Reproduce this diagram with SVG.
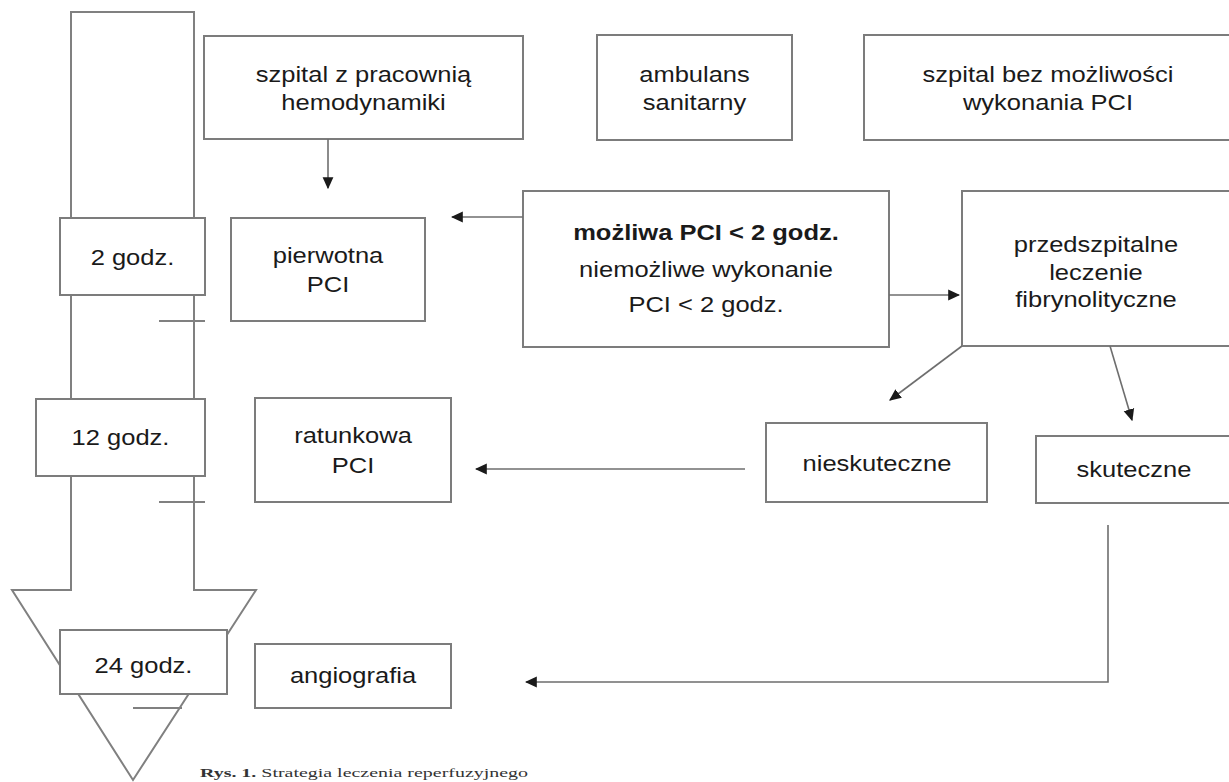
<svg xmlns="http://www.w3.org/2000/svg" width="1229" height="782" viewBox="0 0 1229 782">
<style>
  .box { fill: #ffffff; stroke: #7c7c7c; stroke-width: 2; }
  .shape { fill: none; stroke: #808080; stroke-width: 2; }
  .con { fill: none; stroke: #6e6e6e; stroke-width: 1.6; }
  .t { font-family: "Liberation Sans", Arial, sans-serif; font-size: 22px; fill: #1a1a1a; text-anchor: middle; }
  .b { font-weight: bold; }
  .cap { font-family: "Liberation Serif", "Times New Roman", serif; font-size: 13px; fill: #333; }
</style>
<defs>
  <marker id="ah" viewBox="0 0 10 10" refX="9" refY="5" markerWidth="12" markerHeight="12" markerUnits="userSpaceOnUse" orient="auto">
    <path d="M0,0.5 L10,5 L0,9.5 Z" fill="#1a1a1a"/>
  </marker>
</defs>
<rect width="1229" height="782" fill="#ffffff"/>

<g id="timeline">
  <path class="shape" d="M71,590 L71,12 L194,12 L194,590 L256,590 L133,780 L12,590 Z" fill="#fff"/>
  <line class="shape" x1="159" y1="321" x2="205" y2="321"/>
  <line class="shape" x1="159" y1="502" x2="205" y2="502"/>
</g>

<g id="n-2h">
  <rect class="box" x="60" y="218" width="145" height="77"/>
  <text class="t" transform="translate(132.5,265) scale(1.16,1)">2 godz.</text>
</g>
<g id="n-12h">
  <rect class="box" x="36" y="399" width="169" height="77"/>
  <text class="t" transform="translate(120.5,445) scale(1.16,1)">12 godz.</text>
</g>
<g id="n-24h">
  <rect class="box" x="60" y="630" width="167" height="64"/>
  <text class="t" transform="translate(143.5,673) scale(1.16,1)">24 godz.</text>
  <line class="shape" x1="133" y1="708" x2="182" y2="708"/>
</g>

<g id="n-szpital-z">
  <rect class="box" x="204" y="36" width="319" height="103"/>
  <text class="t" transform="translate(363.5,0) scale(1.16,1)"><tspan x="0" y="82">szpital z pracownią</tspan><tspan x="0" y="110">hemodynamiki</tspan></text>
</g>
<g id="n-ambulans">
  <rect class="box" x="597" y="35" width="195" height="105"/>
  <text class="t" transform="translate(694.5,0) scale(1.16,1)"><tspan x="0" y="82">ambulans</tspan><tspan x="0" y="110">sanitarny</tspan></text>
</g>
<g id="n-szpital-bez">
  <rect class="box" x="864" y="35" width="370" height="105"/>
  <text class="t" transform="translate(1048,0) scale(1.16,1)"><tspan x="0" y="82">szpital bez możliwości</tspan><tspan x="0" y="110">wykonania PCI</tspan></text>
</g>

<g id="n-pierwotna">
  <rect class="box" x="231" y="218" width="194" height="103"/>
  <text class="t" transform="translate(328,0) scale(1.16,1)"><tspan x="0" y="263">pierwotna</tspan><tspan x="0" y="292">PCI</tspan></text>
</g>
<g id="n-mozliwa">
  <rect class="box" x="523" y="191" width="366" height="156"/>
  <text class="t" transform="translate(706,0) scale(1.16,1)"><tspan class="b" x="0" y="240">możliwa PCI &lt; 2 godz.</tspan><tspan x="0" y="277">niemożliwe wykonanie</tspan><tspan x="0" y="312">PCI &lt; 2 godz.</tspan></text>
</g>
<g id="n-przedszpitalne">
  <rect class="box" x="962" y="191" width="272" height="155"/>
  <text class="t" transform="translate(1096,0) scale(1.16,1)"><tspan x="0" y="252">przedszpitalne</tspan><tspan x="0" y="280">leczenie</tspan><tspan x="0" y="307">fibrynolityczne</tspan></text>
</g>

<g id="n-ratunkowa">
  <rect class="box" x="255" y="398" width="196" height="104"/>
  <text class="t" transform="translate(353,0) scale(1.16,1)"><tspan x="0" y="443">ratunkowa</tspan><tspan x="0" y="473">PCI</tspan></text>
</g>
<g id="n-nieskuteczne">
  <rect class="box" x="766" y="423" width="221" height="79"/>
  <text class="t" transform="translate(877,471) scale(1.16,1)">nieskuteczne</text>
</g>
<g id="n-skuteczne">
  <rect class="box" x="1036" y="436" width="198" height="67"/>
  <text class="t" transform="translate(1134,477) scale(1.16,1)">skuteczne</text>
</g>
<g id="n-angiografia">
  <rect class="box" x="255" y="644" width="196" height="64"/>
  <text class="t" transform="translate(353,683) scale(1.16,1)">angiografia</text>
</g>

<g id="connectors">
  <line class="con" x1="328" y1="139" x2="328" y2="188" marker-end="url(#ah)"/>
  <line class="con" x1="523" y1="217" x2="452" y2="217" marker-end="url(#ah)"/>
  <line class="con" x1="889" y1="295" x2="959" y2="295" marker-end="url(#ah)"/>
  <line class="con" x1="962" y1="346" x2="890" y2="400" marker-end="url(#ah)"/>
  <line class="con" x1="1110" y1="346" x2="1132" y2="420" marker-end="url(#ah)"/>
  <line class="con" x1="745" y1="469" x2="476" y2="469" marker-end="url(#ah)"/>
  <polyline class="con" points="1108,525 1108,682 526,682" marker-end="url(#ah)"/>
</g>

<g id="caption">
  <text class="cap" x="200" y="777" textLength="328" lengthAdjust="spacingAndGlyphs"><tspan font-weight="bold">Rys. 1.</tspan> Strategia leczenia reperfuzyjnego</text>
</g>
</svg>
